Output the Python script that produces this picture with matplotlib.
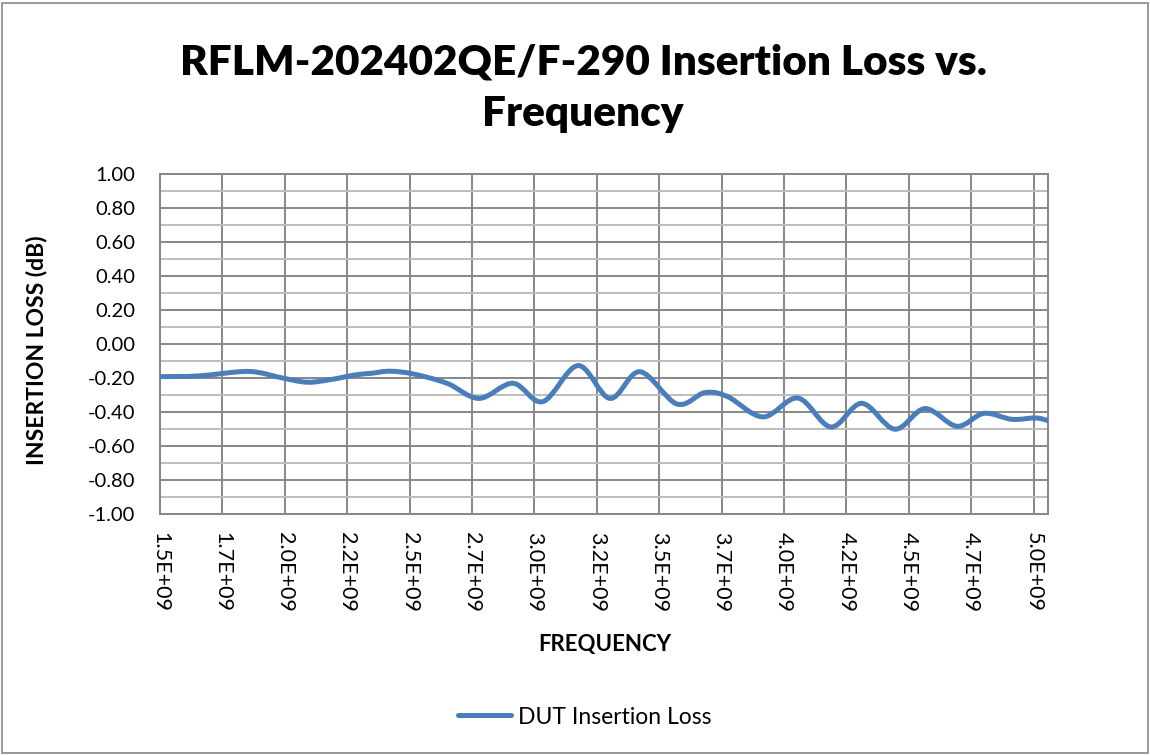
import matplotlib
matplotlib.use('Agg')
import matplotlib.pyplot as plt
from matplotlib.path import Path
from matplotlib.patches import PathPatch, Rectangle
from matplotlib.lines import Line2D
import numpy as np

# ---- data ----
freq_ghz = [1.500, 1.652, 1.820, 1.893, 1.997, 2.093, 2.189, 2.281, 2.349, 2.421,
            2.514, 2.650, 2.778, 2.914, 3.034, 3.175, 3.303, 3.423, 3.571, 3.683,
            3.775, 3.916, 4.056, 4.188, 4.312, 4.444, 4.565, 4.693, 4.801, 4.913,
            5.009, 5.058]
loss_db = [-0.192, -0.188, -0.163, -0.167, -0.202, -0.225, -0.208, -0.182, -0.172, -0.160,
           -0.176, -0.231, -0.320, -0.231, -0.339, -0.127, -0.320, -0.163, -0.353, -0.286,
           -0.310, -0.429, -0.318, -0.488, -0.349, -0.501, -0.380, -0.484, -0.408, -0.443,
           -0.435, -0.451]
series_name = "DUT Insertion Loss"

x_ticks_ghz = [1.5, 1.75, 2.0, 2.25, 2.5, 2.75, 3.0, 3.25, 3.5, 3.75, 4.0, 4.25, 4.5, 4.75, 5.0]
x_tick_labels = ["1.5E+09", "1.7E+09", "2.0E+09", "2.2E+09", "2.5E+09", "2.7E+09", "3.0E+09",
                 "3.2E+09", "3.5E+09", "3.7E+09", "4.0E+09", "4.2E+09", "4.5E+09", "4.7E+09",
                 "5.0E+09"]
y_ticks = [-1.0, -0.8, -0.6, -0.4, -0.2, 0.0, 0.2, 0.4, 0.6, 0.8, 1.0]
y_minor = [-0.9, -0.7, -0.5, -0.3, -0.1, 0.1, 0.3, 0.5, 0.7, 0.9]

title = "RFLM-202402QE/F-290 Insertion Loss vs.\nFrequency"
x_label = "FREQUENCY"
y_label = "INSERTION LOSS (dB)"

FONT = ['Lato', 'DejaVu Sans']
plt.rcParams['font.family'] = FONT
LINE_COLOR = '#4A7EBB'

W, H = 1150, 755
fig = plt.figure(figsize=(W / 100, H / 100), dpi=100)
fig.patch.set_facecolor('white')

L, R, T, B = 160, 1048, 174, 514
ax = fig.add_axes([L / W, 1 - B / H, (R - L) / W, (B - T) / H])

x = np.array(freq_ghz) * 1e9
y = np.array(loss_db)
ax.set_xlim(1.5e9, 5.058e9)
ax.set_ylim(-1.0, 1.0)

# smoothed line (Catmull-Rom rendered as Bezier curves)
P = np.column_stack([x, y])
n = len(P)
verts = [P[0]]
codes = [Path.MOVETO]
for i in range(n - 1):
    p0 = P[i - 1] if i > 0 else P[i]
    p3 = P[i + 2] if i + 2 < n else P[i + 1]
    c1 = P[i] + (P[i + 1] - p0) / 6.0
    c2 = P[i + 1] - (p3 - P[i]) / 6.0
    verts += [c1, c2, P[i + 1]]
    codes += [Path.CURVE4] * 3
patch = PathPatch(Path(verts, codes), facecolor='none', edgecolor=LINE_COLOR,
                  linewidth=3.6, capstyle='round', joinstyle='round', zorder=5)
ax.add_patch(patch)

ax.set_xticks(np.array(x_ticks_ghz) * 1e9)
ax.set_xticklabels(x_tick_labels, rotation=-90, fontsize=15.5)
ax.set_yticks(y_ticks)
ax.set_yticklabels([f"{v:.2f}" for v in y_ticks], fontsize=14.5)
ax.set_yticks(y_minor, minor=True)
ax.tick_params(axis='both', which='both', length=0)
ax.tick_params(axis='y', pad=18)
ax.tick_params(axis='x', pad=13)

ax.grid(which='major', axis='both', color='#878787', linewidth=1.4, zorder=1)
ax.grid(which='minor', axis='y', color='#BDBDBD', linewidth=1.4, zorder=1)
ax.set_axisbelow(True)
for s in ax.spines.values():
    s.set_color('#878787')
    s.set_linewidth(1.4)

fig.text(583 / W, 1 - 88 / H, title, ha='center', va='center', fontsize=30.4,
         fontweight='heavy', linespacing=1.44)
fig.text(37 / W, 1 - 350 / H, y_label, ha='center', va='center', rotation=90,
         fontsize=16.5, fontweight='bold')
fig.text(605 / W, 1 - 645 / H, x_label, ha='center', va='center',
         fontsize=16, fontweight='bold')

handle = Line2D([], [], color=LINE_COLOR, linewidth=3.6, solid_capstyle='round')
fig.legend([handle], [series_name], loc='center', bbox_to_anchor=(585 / W, 1 - 717 / H),
           frameon=False, fontsize=16.5, handlelength=2.3, handletextpad=0.3)

fig.add_artist(Rectangle((2 / W, 2 / H), (W - 4) / W, (H - 5) / H, transform=fig.transFigure,
                         facecolor='none', edgecolor='#888888', linewidth=1.2))

fig.savefig('out.png', dpi=100)
